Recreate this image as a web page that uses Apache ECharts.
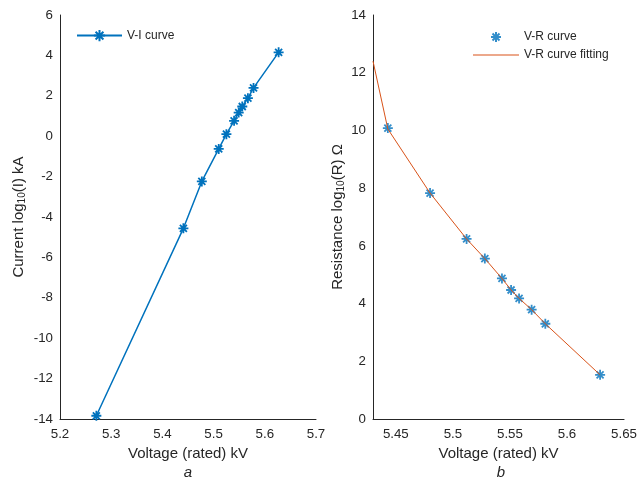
<!DOCTYPE html>
<html>
<head>
    <meta charset="UTF-8">
    <title>V-I and V-R curves</title>
    <script src="https://cdn.jsdelivr.net/npm/echarts@6/dist/echarts.min.js"></script>
    <style>
        html, body { margin: 0; padding: 0; background: #fff; }
        #chart { width: 640px; height: 477px; }
    </style>
</head>
<body>
<div id="chart"></div>
<script>
    // panel a: V-I curve
    var viVoltage = [5.271, 5.441, 5.477, 5.510, 5.525, 5.540, 5.549, 5.556, 5.567, 5.578, 5.627];
    var viCurrent = [-13.84, -4.56, -2.24, -0.63, 0.10, 0.76, 1.17, 1.47, 1.88, 2.39, 4.15];

    // panel b: V-R curve and its fitting
    var vrVoltage = [5.443, 5.480, 5.512, 5.528, 5.543, 5.551, 5.558, 5.569, 5.581, 5.629];
    var vrResistance = [10.08, 7.83, 6.24, 5.56, 4.87, 4.47, 4.18, 3.79, 3.30, 1.53];
    var fitVoltage = [5.430, 5.443, 5.480, 5.512, 5.528, 5.543, 5.551, 5.558, 5.569, 5.581, 5.629];
    var fitResistance = [12.40, 10.05, 7.83, 6.24, 5.56, 4.87, 4.47, 4.18, 3.79, 3.30, 1.53];

    var xTicksB = [5.45, 5.5, 5.55, 5.6, 5.65];

    function pairs(xs, ys) {
        var out = [];
        for (var i = 0; i < xs.length; i++) out.push([xs[i], ys[i]]);
        return out;
    }

    var blue = '#0072BD';
    var orange = '#D95319';
    var ink = '#262626';
    var font = 'Liberation Sans, Arial, Helvetica, sans-serif';
    var star = 'path://M5 0L5 10M0 5L10 5M1.5 1.5L8.5 8.5M8.5 1.5L1.5 8.5';

    var axisLine = {onZero: false, lineStyle: {color: ink, width: 1}};
    var yLabel = {color: ink, fontSize: 13.3, fontFamily: font, margin: 7};
    var xLabel = {color: ink, fontSize: 13.3, fontFamily: font, margin: 9};
    var nameStyle = {
        color: ink, fontSize: 15, fontFamily: font,
        rich: {sub: {fontSize: 10, padding: [7, 0, 0, 0], color: ink, fontFamily: font}}
    };
    var legendText = {color: ink, fontSize: 12, fontFamily: font};

    var chart = echarts.init(document.getElementById('chart'), null, {renderer: 'canvas'});

    chart.setOption({
        animation: false,
        backgroundColor: '#fff',
        textStyle: {fontFamily: font},
        title: [
            {text: 'a', left: 188, top: 465, padding: 0, textAlign: 'center',
                textStyle: {fontStyle: 'italic', fontWeight: 'normal', fontSize: 15, color: ink, fontFamily: font}},
            {text: 'b', left: 501, top: 465, padding: 0, textAlign: 'center',
                textStyle: {fontStyle: 'italic', fontWeight: 'normal', fontSize: 15, color: ink, fontFamily: font}}
        ],
        legend: [
            {data: ['V-I curve'], left: 76, top: 29, itemWidth: 45, itemHeight: 14, padding: 0,
                textStyle: legendText},
            {data: ['V-R curve', {name: 'V-R curve fitting', icon: 'path://M0 0H46V1H0Z'}],
                orient: 'vertical', left: 473, top: 31,
                itemWidth: 46, itemHeight: 10, itemGap: 6, padding: 0,
                textStyle: legendText}
        ],
        grid: [
            {left: 60, right: 324, top: 15, bottom: 58},
            {left: 373, right: 13, top: 15, bottom: 58}
        ],
        xAxis: [
            {type: 'value', gridIndex: 0, min: 5.2, max: 5.7, interval: 0.1,
                name: 'Voltage (rated) kV', nameLocation: 'middle', nameGap: 26, nameTextStyle: nameStyle,
                axisLine: axisLine, axisTick: {show: false}, splitLine: {show: false}, axisLabel: xLabel},
            {type: 'value', gridIndex: 1, min: 5.43, max: 5.65,
                name: 'Voltage (rated) kV', nameLocation: 'middle', nameGap: 26, nameTextStyle: nameStyle,
                axisLine: axisLine, axisTick: {show: false}, splitLine: {show: false},
                axisLabel: Object.assign({}, xLabel, {customValues: xTicksB})}
        ],
        yAxis: [
            {type: 'value', gridIndex: 0, min: -14, max: 6, interval: 2,
                name: 'Current log{sub|10}(I) kA', nameLocation: 'middle', nameGap: 33, nameTextStyle: nameStyle,
                axisLine: Object.assign({show: true}, axisLine), axisTick: {show: false}, splitLine: {show: false},
                axisLabel: yLabel},
            {type: 'value', gridIndex: 1, min: 0, max: 14, interval: 2,
                name: 'Resistance log{sub|10}(R) Ω', nameLocation: 'middle', nameGap: 27, nameTextStyle: nameStyle,
                axisLine: Object.assign({show: true}, axisLine), axisTick: {show: false}, splitLine: {show: false},
                axisLabel: yLabel}
        ],
        series: [
            {
                name: 'V-I curve', type: 'line', xAxisIndex: 0, yAxisIndex: 0,
                data: pairs(viVoltage, viCurrent),
                symbol: star, symbolSize: 10, showSymbol: true,
                lineStyle: {color: blue, width: 1.5},
                itemStyle: {color: blue, borderColor: blue, borderWidth: 1.8}
            },
            {
                name: 'V-R curve fitting', type: 'line', xAxisIndex: 1, yAxisIndex: 1,
                data: pairs(fitVoltage, fitResistance),
                symbol: 'none',
                lineStyle: {color: orange, width: 1},
                itemStyle: {color: orange}
            },
            {
                name: 'V-R curve', type: 'scatter', xAxisIndex: 1, yAxisIndex: 1,
                data: pairs(vrVoltage, vrResistance),
                symbol: star, symbolSize: 10,
                itemStyle: {color: blue, borderColor: blue, borderWidth: 1.8}
            }
        ]
    });
</script>
</body>
</html>
